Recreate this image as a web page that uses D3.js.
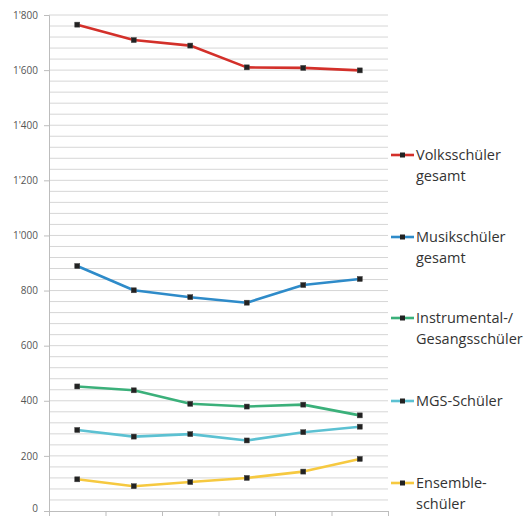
<!DOCTYPE html>
<html>
<head>
<meta charset="utf-8">
<script src="https://cdn.jsdelivr.net/npm/d3@7"></script>
<style>
  html, body { margin: 0; padding: 0; background: #ffffff; }
  svg { display: block; }
</style>
</head>
<body>
<svg id="chart" width="527" height="516"></svg>
<script>
// Six periods along the x axis (no labels are shown on the axis)
const periods = ["P1", "P2", "P3", "P4", "P5", "P6"];

// Pupil counts per group
const volksschueler   = [1765, 1709, 1689, 1610, 1608, 1599];
const musikschueler   = [889, 801, 776, 756, 820, 842];
const instrumental    = [452, 438, 389, 379, 386, 347];
const mgsSchueler     = [294, 270, 279, 256, 286, 306];
const ensemble        = [115, 90, 105, 120, 143, 189];

const seriesNames  = [["Volksschüler", "gesamt"], ["Musikschüler", "gesamt"], ["Instrumental-/", "Gesangsschüler"], ["MGS-Schüler"], ["Ensemble-", "schüler"]];
const seriesValues = [volksschueler, musikschueler, instrumental, mgsSchueler, ensemble];
const seriesColors = ["#d3302a", "#2e8bc9", "#3bb07a", "#5cc1d2", "#f6c940"];

// Y axis: labelled every 200, grid every 40
const yTickLabels = [0, 200, 400, 600, 800, 1000, 1200, 1400, 1600, 1800];
const yGridValues = d3.range(40, 1801, 40);

const svg = d3.select("#chart");
const plotLeft = 49, plotRight = 388, plotTop = 15, plotBottom = 511;

const xEdge = d3.scaleLinear().domain([0, periods.length]).range([plotLeft, plotRight]);
const xPos = i => xEdge(i + 0.5);
const y = d3.scaleLinear().domain([0, 1800]).range([plotBottom, plotTop]);

const locale = d3.formatLocale({ decimal: ".", thousands: "'", grouping: [3], currency: ["", ""] });
const fmt = locale.format(",");

// Horizontal gridlines
svg.append("g")
  .selectAll("line")
  .data(yGridValues)
  .join("line")
  .attr("x1", plotLeft).attr("x2", plotRight)
  .attr("y1", d => y(d)).attr("y2", d => y(d))
  .attr("stroke", "#d6d6d6")
  .attr("stroke-width", 1);

// Y axis
const yAxis = svg.append("g")
  .attr("transform", `translate(${plotLeft},0)`)
  .call(d3.axisLeft(y).tickValues(yTickLabels).tickSize(5).tickPadding(6).tickFormat(fmt));
yAxis.select(".domain").attr("stroke", "#bdbdbd");
yAxis.selectAll(".tick line").attr("stroke", "#bdbdbd");
yAxis.selectAll("text")
  .attr("fill", "#555")
  .style("font-family", "'Open Sans', sans-serif")
  .style("font-size", "10px");
// keep the bottom label inside the canvas
yAxis.selectAll(".tick text").filter(d => d === 0).attr("dy", "0.02em");

// X axis with tick marks on category boundaries
const xAxis = svg.append("g")
  .attr("transform", `translate(0,${plotBottom})`)
  .call(d3.axisBottom(xEdge).tickValues(d3.range(0, periods.length + 1)).tickSize(5).tickFormat(""));
xAxis.select(".domain").attr("stroke", "#bdbdbd");
xAxis.selectAll(".tick line").attr("stroke", "#bdbdbd");

// Lines and markers
const line = d3.line().x((d, i) => xPos(i)).y(d => y(d));

seriesValues.forEach((vals, s) => {
  const g = svg.append("g");
  g.append("path")
    .datum(vals)
    .attr("d", line)
    .attr("fill", "none")
    .attr("stroke", seriesColors[s])
    .attr("stroke-width", 2.6)
    .attr("stroke-linejoin", "round");
  g.selectAll("rect")
    .data(vals)
    .join("rect")
    .attr("x", (d, i) => xPos(i) - 2.5)
    .attr("y", d => y(d) - 2.5)
    .attr("width", 5).attr("height", 5)
    .attr("fill", "#222")
    .attr("stroke", "#444")
    .attr("stroke-width", 0.5);
});

// Legend
const legendY = [155, 237, 318, 401, 483];
const legend = svg.append("g")
  .style("font-family", "'Open Sans', sans-serif")
  .style("font-size", "14.5px")
  .attr("fill", "#333");

seriesNames.forEach((name, s) => {
  const ly = legendY[s];
  legend.append("line")
    .attr("x1", 391).attr("x2", 414)
    .attr("y1", ly).attr("y2", ly)
    .attr("stroke", seriesColors[s])
    .attr("stroke-width", 2.6);
  legend.append("rect")
    .attr("x", 400).attr("y", ly - 2.5)
    .attr("width", 5).attr("height", 5)
    .attr("fill", "#222");
  const t = legend.append("text")
    .attr("x", 416).attr("y", ly + 5);
  name.forEach((part, k) => {
    t.append("tspan")
      .attr("x", 416)
      .attr("dy", k === 0 ? 0 : 21)
      .text(part);
  });
});
</script>
</body>
</html>
